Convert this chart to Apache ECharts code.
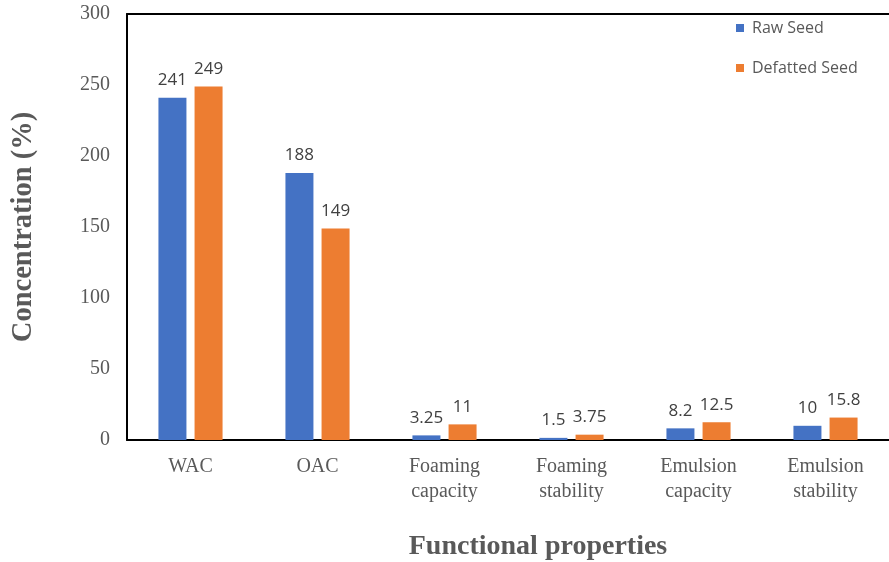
<!DOCTYPE html>
<html>
<head>
<meta charset="utf-8">
<script src="https://cdn.jsdelivr.net/npm/echarts@6/dist/echarts.min.js"></script>
<style>
  html, body { margin: 0; padding: 0; background: #fff; }
  #chart { width: 889px; height: 562px; }
</style>
</head>
<body>
<div id="chart"></div>
<script>
// Functional properties of raw vs. defatted seed
const categories = ['WAC', 'OAC', 'Foaming\ncapacity', 'Foaming\nstability', 'Emulsion\ncapacity', 'Emulsion\nstability'];
const rawSeed = [241, 188, 3.25, 1.5, 8.2, 10];
const defattedSeed = [249, 149, 11, 3.75, 12.5, 15.8];
const yTicks = [0, 50, 100, 150, 200, 250, 300];

const serif = '"Liberation Serif", "DejaVu Serif", serif';
const sans = '"Open Sans", "Liberation Sans", sans-serif';
const grey = '#595959';

const chart = echarts.init(document.getElementById('chart'));

const labelStyle = {
  show: true,
  position: 'top',
  distance: 9,
  fontFamily: sans,
  fontSize: 17,
  color: '#404040'
};

chart.setOption({
  animation: false,
  title: {
    text: 'Functional properties',
    left: 533,
    top: 528,
    textAlign: 'center',
    textStyle: { fontFamily: serif, fontSize: 28, fontWeight: 'bold', color: grey }
  },
  legend: {
    orient: 'vertical',
    left: 731,
    top: 15,
    itemGap: 24,
    itemWidth: 8,
    itemHeight: 8,
    icon: 'rect',
    textStyle: { fontFamily: sans, fontSize: 16, color: grey, padding: [0, 0, 0, 3] },
    data: ['Raw Seed', 'Defatted Seed']
  },
  grid: { left: 127, right: -2, top: 14, bottom: 122, containLabel: false },
  xAxis: [
    {
      type: 'category',
      data: categories,
      axisLine: { lineStyle: { color: '#000', width: 2 } },
      axisTick: { show: false },
      axisLabel: {
        fontFamily: serif, fontSize: 20, color: grey,
        lineHeight: 25, margin: 14, interval: 0
      }
    },
    {
      type: 'category',
      position: 'top',
      data: categories,
      axisLine: { show: true, lineStyle: { color: '#000', width: 2 } },
      axisTick: { show: false },
      axisLabel: { show: false }
    }
  ],
  yAxis: {
    type: 'value',
    min: yTicks[0],
    max: yTicks[yTicks.length - 1],
    interval: yTicks[1] - yTicks[0],
    name: 'Concentration (%)',
    nameLocation: 'middle',
    nameGap: 89,
    nameTextStyle: { fontFamily: serif, fontSize: 28.5, fontWeight: 'bold', color: grey },
    axisLine: { show: true, lineStyle: { color: '#000', width: 2 } },
    axisTick: { show: false },
    splitLine: { show: false },
    axisLabel: { fontFamily: serif, fontSize: 20, color: grey, margin: 17 }
  },
  series: [
    {
      name: 'Raw Seed',
      type: 'bar',
      data: rawSeed,
      barWidth: 28,
      barGap: '29%',
      itemStyle: { color: '#4472C4' },
      label: labelStyle
    },
    {
      name: 'Defatted Seed',
      type: 'bar',
      data: defattedSeed,
      barWidth: 28,
      itemStyle: { color: '#ED7D31' },
      label: labelStyle
    }
  ]
});
</script>
</body>
</html>
